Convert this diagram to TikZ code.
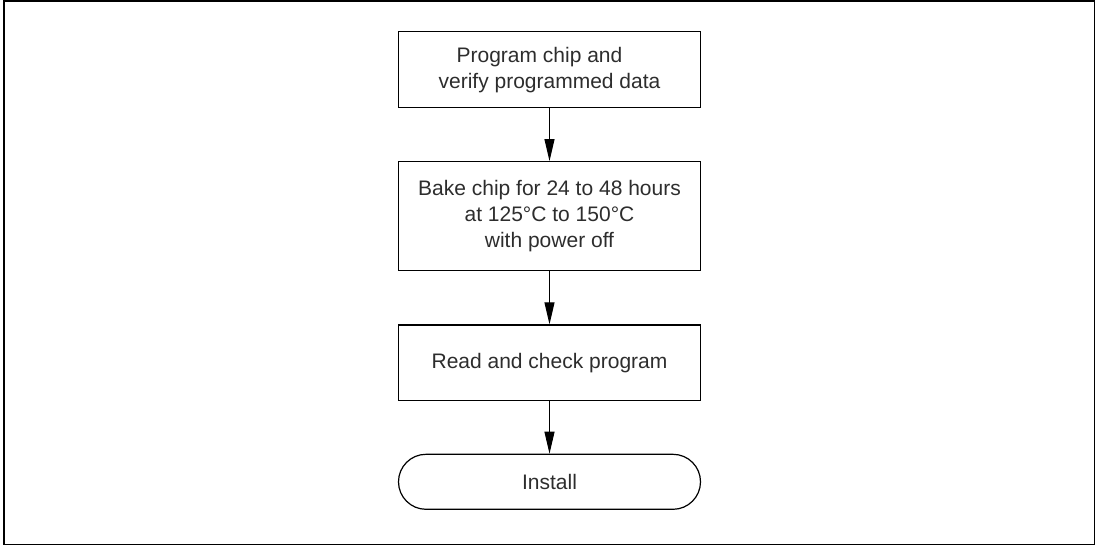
\documentclass[tikz,border=0pt]{standalone}
\usepackage{fontspec}
\setmainfont{Liberation Sans}
\usetikzlibrary{arrows.meta}
\definecolor{txt}{RGB}{45,45,45}
\begin{document}
\begin{tikzpicture}[x=1pt,y=-1pt,
  stepbox/.style={draw=black,line width=1.2pt,minimum width=302pt,text=txt,
    font=\fontsize{21}{26}\selectfont,align=center,inner sep=0pt},
  termbox/.style={stepbox,rounded corners=27.5pt},
  flow/.style={draw=black,line width=1pt,-{Triangle[length=22pt,width=10pt]}}]
\useasboundingbox (0,0) rectangle (1096,546);
\draw[line width=1.5pt] (4,1) rectangle (1094.5,544.5);
\node[stepbox,minimum height=76pt] (a) at (549.5,69.7) {Program chip and\hspace*{20pt}\\verify programmed data};
\node[stepbox,minimum height=108.6pt] (b) at (549.5,216) {Bake chip for 24 to 48 hours\\at 125°C to 150°C\\with power off};
\node[stepbox,minimum height=75.7pt] (c) at (549.5,362.8) {Read and check program};
\node[termbox,minimum height=55pt] (d) at (549.5,481.8) {Install};
\draw[flow] (a) -- (b);
\draw[flow] (b) -- (c);
\draw[flow] (c) -- (d);
\end{tikzpicture}
\end{document}
